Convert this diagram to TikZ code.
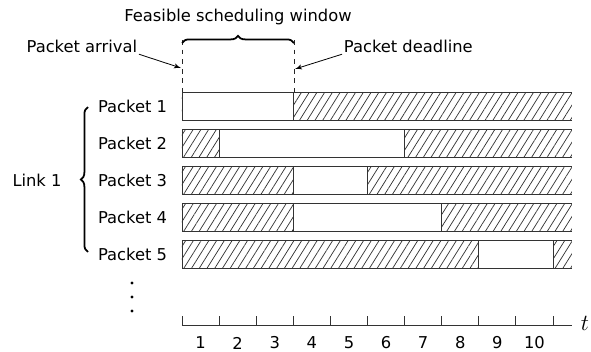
\documentclass[tikz,border=0pt]{standalone}
\usepackage{fontspec}
\setmainfont{DejaVu Sans}
\usetikzlibrary{patterns.meta, decorations.pathreplacing, arrows, positioning}

\begin{document}
\begin{tikzpicture}[x=0.625pt, y=-0.625pt, font=\fontsize{10.2}{12}\selectfont,
    outline/.style={draw=black!80, line width=0.6pt},
    hatch/.style={pattern={Lines[angle=58, distance=4.1pt, line width=0.45pt]}, pattern color=black!80},
    guide/.style={draw=black!85, dashed, line width=0.6pt},
    pointer/.style={draw, -latex', line width=0.5pt},
    curly/.style={decorate, decoration={brace, amplitude=4.5pt}, line width=1.1pt},
    rowlabel/.style={anchor=east, inner sep=1pt}]
    \useasboundingbox (0,0) rectangle (591,352);

    % packets: row, white slot start, white slot end
    \foreach \r/\a/\b in {1/0/3, 2/1/6, 3/3/5, 4/3/7, 5/8/10} {
        \pgfmathsetmacro{\top}{92+37*(\r-1)}
        \pgfmathsetmacro{\bot}{\top+28}
        \fill[hatch] (182,\top) rectangle (572,\bot);
        \fill[white] ({182+37.1*\a},\top) rectangle ({182+37.1*\b},\bot);
        \draw[outline] ({182+37.1*\a},\top) rectangle ({182+37.1*\b},\bot);
        \draw[outline] (572,\top) -- (182,\top) -- (182,\bot) -- (572,\bot);
        \node[rowlabel] (p\r) at (169,{\top+14}) {Packet \r};
    }

    % window marks
    \coordinate (arrtop) at (182,40);
    \coordinate (arrbot) at (182,92);
    \coordinate (dltop) at (294,40);
    \coordinate (dlbot) at (294,92);
    \draw[guide] (arrtop) -- (arrbot);
    \draw[guide] (dltop) -- (dlbot);
    \draw[curly] (182,43) -- (294,43);
    \node (window) at (238,17) {Feasible scheduling window};
    \node[anchor=east, inner sep=1pt] (arrival) at (139,46) {Packet arrival};
    \node[anchor=west, inner sep=1pt] (deadline) at (342,46) {Packet deadline};
    \coordinate (arrpt) at (181,68);
    \coordinate (dlpt) at (295,69);
    \path[pointer] (arrival.south east) -- (arrpt);
    \path[pointer] (deadline.south west) -- (dlpt);

    % link brace
    \draw[curly] (88,252) -- (88,107);
    \node (link) at (37,180) {Link 1};

    \foreach \y in {283,297,311}
        \fill (132,\y) circle (1.7);

    % time axis
    \draw[outline] (182,325) -- (572,325);
    \foreach \k in {0,...,10}
        \draw[outline] ({182+37.1*\k},325) -- ({182+37.1*\k},316);
    \foreach \k in {1,...,10}
        \node (n\k) at ({182+37.1*(\k-0.5)},343) {\k};
    \node (t) at (585,323) {\Large $t$};
\end{tikzpicture}
\end{document}
